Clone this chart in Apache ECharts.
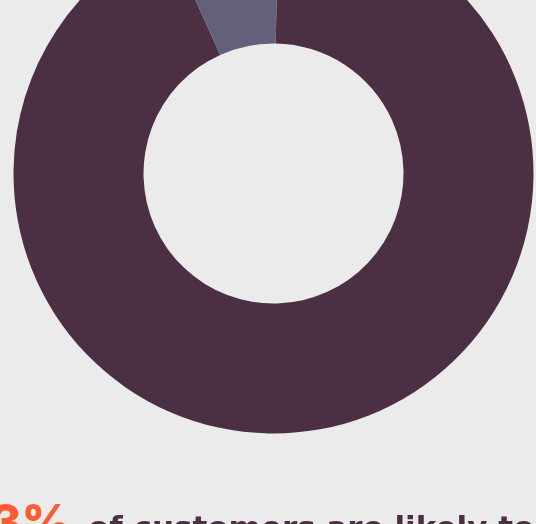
<!DOCTYPE html>
<html>
<head>
<meta charset="utf-8">
<script src="https://cdn.jsdelivr.net/npm/echarts@6/dist/echarts.min.js"></script>
<style>
  html, body { margin: 0; padding: 0; background: #eaebea; }
  #main { width: 536px; height: 524px; }
</style>
</head>
<body>
<div id="main"></div>
<script>
// share of customers
var names = ['Likely', 'Not likely'];
var values = [93, 7];
var colors = ['#4b2f42', '#64607c'];

var chart = echarts.init(document.getElementById('main'));
chart.setOption({
  backgroundColor: '#eaebea',
  animation: false,
  series: [{
    type: 'pie',
    center: [273.5, 173.5],
    radius: [130, 260],
    startAngle: 89,
    clockwise: true,
    silent: true,
    label: { show: false },
    labelLine: { show: false },
    itemStyle: { borderWidth: 0 },
    data: names.map(function (n, i) {
      return { name: n, value: values[i], itemStyle: { color: colors[i] } };
    })
  }],
  graphic: [
    {
      type: 'text',
      x: 71,
      y: 525,
      z: 10,
      style: {
        text: values[0] + '%',
        font: '800 48px Inter, "Noto Sans", sans-serif',
        fill: '#ff5b2e',
        align: 'right',
        verticalAlign: 'middle'
      }
    },
    {
      type: 'text',
      x: 88,
      y: 530,
      z: 10,
      style: {
        text: 'of customers are likely to',
        font: 'bold 31px "DejaVu Sans", sans-serif',
        fill: '#4b2f42',
        align: 'left',
        verticalAlign: 'middle'
      }
    }
  ]
});
</script>
</body>
</html>
